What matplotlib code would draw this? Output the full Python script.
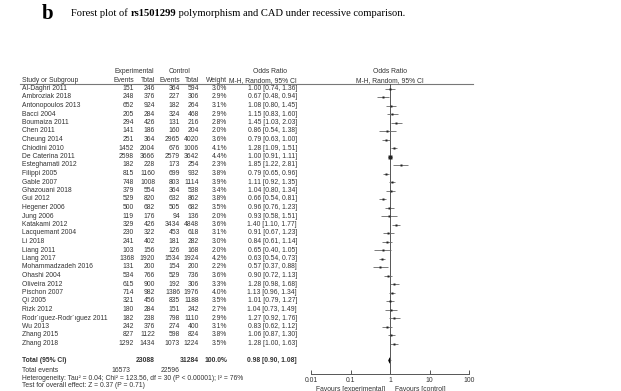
import matplotlib
matplotlib.use("Agg")
import matplotlib.pyplot as plt
import numpy as np

# study rows
studies = ["Al-Daghri 2011", "Ambroziak 2018", "Antonopoulos 2013", "Bacci 2004", "Boumaiza 2011",
           "Chen 2011", "Cheung 2014", "Chiodini 2010", "De Caterina 2011", "Esteghamati 2012",
           "Filippi 2005", "Gable 2007", "Ghazouani 2018", "Gui 2012", "Hegener 2006", "Jung 2006",
           "Katakami 2012", "Lacquemant 2004", "Li 2018", "Liang 2011", "Liang 2017",
           "Mohammadzadeh 2016", "Ohashi 2004", "Oliveira 2012", "Pischon 2007", "Qi 2005",
           "Rizk 2012", "Rodr\u00b4\u0131guez-Rodr\u00b4\u0131guez 2011", "Wu 2013", "Zhang 2015", "Zhang 2018"]
exp_events = [151, 248, 652, 205, 294, 141, 251, 1452, 2598, 182, 815, 748, 379, 529, 500, 119,
              329, 230, 241, 103, 1368, 131, 534, 615, 714, 321, 180, 182, 242, 827, 1292]
exp_total = [246, 376, 924, 284, 426, 186, 364, 2004, 3666, 228, 1160, 1008, 554, 820, 682, 176,
             426, 322, 402, 156, 1920, 200, 766, 900, 982, 456, 284, 238, 376, 1122, 1434]
ctl_events = [364, 227, 182, 324, 131, 160, 2965, 676, 2579, 173, 699, 803, 364, 632, 505, 94,
              3434, 453, 181, 126, 1534, 154, 529, 192, 1386, 835, 151, 798, 274, 598, 1073]
ctl_total = [594, 306, 264, 468, 216, 204, 4020, 1006, 3642, 254, 932, 1114, 538, 862, 682, 136,
             4848, 618, 282, 168, 1924, 200, 736, 306, 1976, 1188, 242, 1110, 400, 824, 1224]
weights = [3.0, 2.9, 3.1, 2.9, 2.8, 2.0, 3.6, 4.1, 4.4, 2.3, 3.8, 3.9, 3.4, 3.8, 3.5, 2.0,
           3.6, 3.1, 3.0, 2.0, 4.2, 2.2, 3.6, 3.3, 4.0, 3.5, 2.7, 2.9, 3.1, 3.8, 3.5]
odds = [1.00, 0.67, 1.08, 1.15, 1.45, 0.86, 0.79, 1.28, 1.00, 1.85, 0.79, 1.11, 1.04, 0.66, 0.96, 0.93,
        1.40, 0.91, 0.84, 0.65, 0.63, 0.57, 0.90, 1.28, 1.13, 1.01, 1.04, 1.27, 0.83, 1.06, 1.28]
ci_lo = [0.74, 0.48, 0.80, 0.83, 1.03, 0.54, 0.63, 1.09, 0.91, 1.22, 0.65, 0.92, 0.80, 0.54, 0.76, 0.58,
         1.10, 0.67, 0.61, 0.40, 0.54, 0.37, 0.72, 0.98, 0.96, 0.79, 0.73, 0.92, 0.62, 0.87, 1.00]
ci_hi = [1.36, 0.94, 1.45, 1.60, 2.03, 1.38, 1.00, 1.51, 1.11, 2.81, 0.96, 1.35, 1.34, 0.81, 1.23, 1.51,
         1.77, 1.23, 1.14, 1.05, 0.73, 0.88, 1.13, 1.68, 1.34, 1.27, 1.49, 1.76, 1.12, 1.30, 1.63]

total_exp = 23088
total_ctl = 31284
total_events_exp = 16573
total_events_ctl = 22596
pooled = (0.98, 0.90, 1.08)
het_text = "Heterogeneity: Tau\u00b2 = 0.04; Chi\u00b2 = 123.56, df = 30 (P < 0.00001); I\u00b2 = 76%"
overall_text = "Test for overall effect: Z = 0.37 (P = 0.71)"
xticks = [0.01, 0.1, 1, 10, 100]
xtick_labels = ["0.01", "0.1", "1", "10", "100"]

W, H = 621, 391
fs = 4.9
tc = "#333333"
sans = "Liberation Sans"

fig = plt.figure(figsize=(W / 100, H / 100), dpi=100)
bg = fig.add_axes([0, 0, 1, 1])
bg.set_xlim(0, W)
bg.set_ylim(H, 0)
bg.axis("off")

# title
tb = bg.text(42, 19, "b", fontsize=15, fontweight="bold", family="Liberation Serif", color="black")
t1 = bg.text(71, 16, "Forest plot of ", fontsize=7.6, family="Liberation Serif", color="black")
t2 = bg.annotate("rs1501299", xy=(1, 0), xycoords=t1, fontsize=7.6, fontweight="bold",
                 family="Liberation Serif", va="bottom", color="black")
bg.annotate(" polymorphism and CAD under recessive comparison.", xy=(1, 0), xycoords=t2,
            fontsize=7.6, family="Liberation Serif", va="bottom", color="black")

# column positions (right edges, px)
col_x = [134, 155, 180, 199, 227, 297]
y0 = 88.5
row_h = 8.5

kw = dict(fontsize=fs, family=sans, color=tc, va="center")
bg.text(134, 71.5, "Experimental", ha="center", **kw)
bg.text(180, 71.5, "Control", ha="center", **kw)
bg.text(270, 71.5, "Odds Ratio", ha="center", **kw)
bg.text(390, 71.5, "Odds Ratio", ha="center", **kw)
hy = 80.5
bg.text(22, hy, "Study or Subgroup", ha="left", **kw)
for x, h in zip(col_x, ["Events", "Total", "Events", "Total", "Weight", "M-H, Random, 95% CI"]):
    bg.text(x, hy, h, ha="right", **kw)
bg.text(390, hy, "M-H, Random, 95% CI", ha="center", **kw)
bg.plot([20, 473], [84, 84], color="#777777", lw=0.8)

for i, name in enumerate(studies):
    y = y0 + i * row_h
    bg.text(22, y, name, ha="left", **kw)
    vals = [str(exp_events[i]), str(exp_total[i]), str(ctl_events[i]), str(ctl_total[i]),
            "%.1f%%" % weights[i], "%.2f [%.2f, %.2f]" % (odds[i], ci_lo[i], ci_hi[i])]
    for x, v in zip(col_x, vals):
        bg.text(x, y, v, ha="right", **kw)

ty = 360.5
bkw = dict(kw, fontweight="bold")
bg.text(22, ty, "Total (95% CI)", ha="left", **bkw)
bg.text(col_x[1], ty, str(total_exp), ha="right", **bkw)
bg.text(col_x[3], ty, str(total_ctl), ha="right", **bkw)
bg.text(col_x[4], ty, "100.0%", ha="right", **bkw)
bg.text(col_x[5], ty, "%.2f [%.2f, %.2f]" % pooled, ha="right", **bkw)
bg.text(22, 370, "Total events", ha="left", **kw)
bg.text(col_x[0] - 4, 370, str(total_events_exp), ha="right", **kw)
bg.text(col_x[2], 370, str(total_events_ctl), ha="right", **kw)
bg.text(22, 378, het_text, ha="left", **kw)
bg.text(22, 385.5, overall_text, ha="left", **kw)

# forest part
ax = fig.add_axes([311 / W, (H - 374) / H, 158 / W, 290 / H])
ax.set_xscale("log")
ax.set_xlim(0.01, 100)
ax.set_ylim(374, 84)
for s in ["top", "left", "right"]:
    ax.spines[s].set_visible(False)
ax.spines["bottom"].set_color("#555555")
ax.spines["bottom"].set_linewidth(0.7)
ax.patch.set_alpha(0)
ax.set_yticks([])
ax.set_xticks(xticks)
ax.set_xticklabels(xtick_labels)
ax.minorticks_off()
ax.tick_params(axis="x", direction="in", length=3, width=0.7, color="#555555",
               labelsize=fs, labelcolor=tc, pad=2.5)
for lab in ax.get_xticklabels():
    lab.set_family(sans)
ax.axvline(1, color="#555555", lw=0.7)

ys = y0 + np.arange(len(studies)) * row_h
ax.hlines(ys, ci_lo, ci_hi, color="#666666", lw=0.6)
for y, o, w in zip(ys, odds, weights):
    ax.plot(o, y, marker="s", ms=1.05 * np.sqrt(w), color="#222222", mec="none")
dy = 3.2
ax.fill([pooled[1], pooled[0], pooled[2], pooled[0]], [ty, ty - dy, ty, ty + dy], color="black", lw=0)

# reference crops these at the bottom edge as well
bg.text(385, 389.5, "Favours [experimental]", ha="right", **kw)
bg.text(395, 389.5, "Favours [control]", ha="left", **kw)

fig.savefig("out.png", dpi=100)
